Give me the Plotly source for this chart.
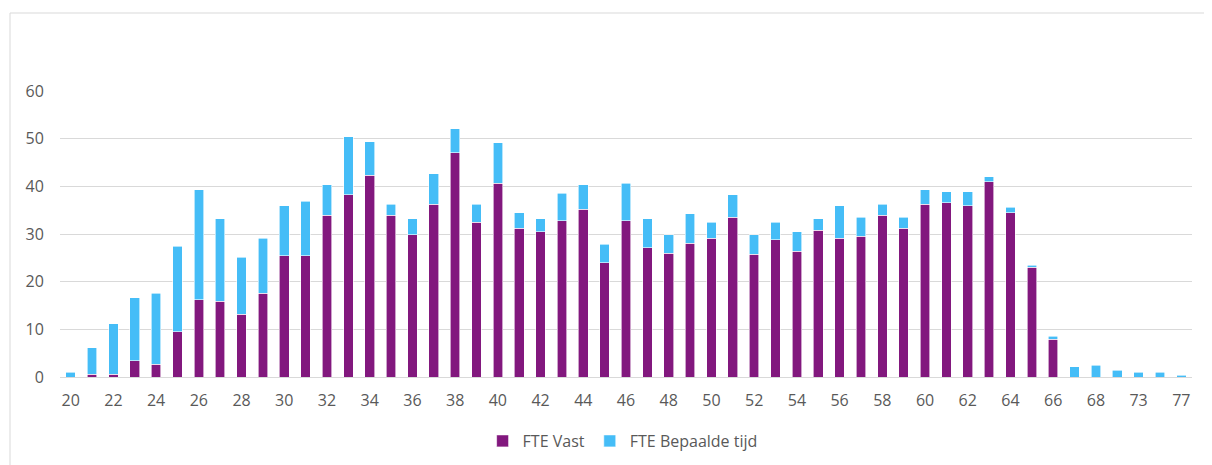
import plotly.graph_objects as go

ages = [str(a) for a in range(20, 69)] + ["70", "73", "75", "77"]
fte_vast = [0, 0.6, 0.6, 3.4, 2.7, 9.5, 16.2, 15.9, 13.2, 17.6,
            25.4, 25.4, 33.9, 38.2, 42.3, 33.9, 29.8, 36.2, 47.0, 32.5,
            40.6, 31.2, 30.5, 32.8, 35.2, 24.0, 32.8, 27.1, 26.0, 28.1,
            29.1, 33.5, 25.8, 28.8, 26.4, 30.8, 29.1, 29.5, 33.9, 31.2,
            36.2, 36.6, 35.9, 41.0, 34.5, 23.0, 7.9, 0, 0, 0, 0, 0, 0]
fte_total = [1.0, 6.1, 11.2, 16.6, 17.6, 27.4, 39.3, 33.2, 25.1, 29.1,
             35.9, 36.9, 40.3, 50.4, 49.4, 36.2, 33.2, 42.6, 52.1, 36.2,
             49.1, 34.5, 33.2, 38.6, 40.3, 27.8, 40.6, 33.2, 29.8, 34.2,
             32.5, 38.2, 29.8, 32.5, 30.5, 33.2, 35.9, 33.5, 36.2, 33.5,
             39.3, 38.9, 38.9, 42.0, 35.6, 23.4, 8.6, 2.1, 2.5, 1.4, 1.0, 1.0, 0.35]
fte_bepaald = [round(t - v, 2) for t, v in zip(fte_total, fte_vast)]
tick_labels = ages[0::2]

purple = "#82187E"
blue = "#45BDF7"
grey_text = "#595959"
grid = "#D9D9D9"

fig = go.Figure()
fig.add_trace(go.Bar(x=ages, y=fte_vast, name="FTE Vast",
                     marker=dict(color=purple, line=dict(color="white", width=0.6))))
fig.add_trace(go.Bar(x=ages, y=fte_bepaald, name="FTE Bepaalde tijd",
                     marker=dict(color=blue, line=dict(color="white", width=0.6))))

# page body has an 8px offset
OFF = 8
W, H = 1212 - OFF, 465 - OFF
L, T = 60 - OFF, 91 - OFF
R = W - (1192 - OFF)
B = H - (377 - OFF)
pw = W - L - R
ph = H - T - B

fig.update_layout(
    barmode="stack",
    bargap=0.55,
    width=W, height=H,
    margin=dict(l=L, r=R, t=T, b=B, autoexpand=False),
    paper_bgcolor="white",
    plot_bgcolor="white",
    font=dict(family="Open Sans, Liberation Sans, sans-serif", size=16, color=grey_text),
    showlegend=True,
    legend=dict(orientation="h", x=0.497, xanchor="center",
                y=-(441 - 377) / ph, yanchor="middle",
                font=dict(size=16, color=grey_text), traceorder="normal"),
    xaxis=dict(type="category", tickvals=tick_labels, ticktext=tick_labels,
               showgrid=False, showline=False, ticks="outside", ticklen=9,
               tickcolor="rgba(0,0,0,0)", tickfont=dict(size=16, color=grey_text)),
    yaxis=dict(range=[0, 60], dtick=10, showgrid=True, gridcolor=grid, gridwidth=1.3,
               zeroline=True, zerolinecolor=grid, zerolinewidth=1.3, showline=False,
               ticks="outside", ticklen=12, tickcolor="rgba(0,0,0,0)",
               tickfont=dict(size=16, color=grey_text)),
    shapes=[
        dict(type="line", xref="paper", yref="paper",
             x0=(10 - 60) / pw, x1=(1212 - 60) / pw + 0.01,
             y0=(377 - 13) / ph, y1=(377 - 13) / ph,
             line=dict(color="#D9D9D9", width=1)),
        dict(type="line", xref="paper", yref="paper",
             x0=(10 - 60) / pw, x1=(10 - 60) / pw,
             y0=(377 - 13) / ph, y1=-(465 - 377 + 5) / ph,
             line=dict(color="#D9D9D9", width=1)),
    ],
)

fig.write_html("out.html")
